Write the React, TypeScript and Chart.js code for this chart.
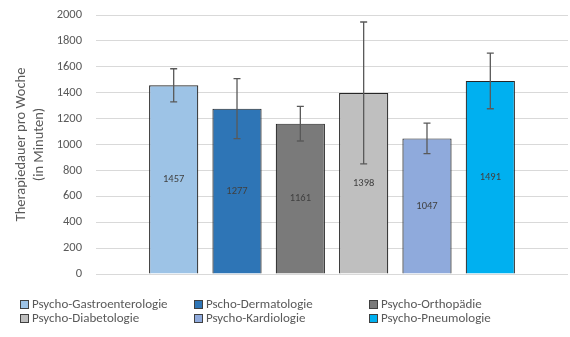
import React, { useEffect, useRef } from "react";
import { Chart, registerables } from "chart.js";

Chart.register(...registerables);

const seriesNames: string[] = [
  "Psycho-Gastroenterologie",
  "Pscho-Dermatologie",
  "Psycho-Orthopädie",
  "Psycho-Diabetologie",
  "Psycho-Kardiologie",
  "Psycho-Pneumologie",
];
const seriesValues: number[] = [1457, 1277, 1161, 1398, 1047, 1491];
const seriesErrors: number[] = [128, 231, 134, 548, 118, 215];
const seriesColors: string[] = ["#9DC3E6", "#2E75B6", "#7A7A7A", "#BFBFBF", "#8FAADC", "#00B0F0"];
const yTicks: number[] = [0, 200, 400, 600, 800, 1000, 1200, 1400, 1600, 1800, 2000];
const yTitle: string[] = ["Therapiedauer pro Woche", "(in Minuten)"];

const FONT = "Carlito, Calibri, Lato, 'Liberation Sans', sans-serif";

const overlayPlugin = {
  id: "overlay",
  afterDatasetsDraw(chart: any) {
    const ctx = chart.ctx;
    const yScale = chart.scales.y;
    ctx.save();
    chart.data.datasets.forEach((ds: any, i: number) => {
      const meta = chart.getDatasetMeta(i);
      const bar: any = meta.data[0];
      if (!bar) return;
      const v = ds.data[0];
      ctx.fillStyle = "#404040";
      ctx.font = `10.5px ${FONT}`;
      ctx.textAlign = "center";
      ctx.textBaseline = "middle";
      ctx.fillText(String(v), bar.x, (bar.y + bar.base) / 2);
      const e = seriesErrors[i];
      const yt = yScale.getPixelForValue(v + e);
      const yb = yScale.getPixelForValue(v - e);
      ctx.strokeStyle = "#595959";
      ctx.lineWidth = 1.3;
      ctx.beginPath();
      ctx.moveTo(bar.x, yt);
      ctx.lineTo(bar.x, yb);
      ctx.moveTo(bar.x - 3.5, yt);
      ctx.lineTo(bar.x + 3.5, yt);
      ctx.moveTo(bar.x - 3.5, yb);
      ctx.lineTo(bar.x + 3.5, yb);
      ctx.stroke();
    });
    ctx.restore();
  },
};

export default function App() {
  const ref = useRef<HTMLCanvasElement | null>(null);
  useEffect(() => {
    if (!ref.current) return;
    const chart = new Chart(ref.current, {
      type: "bar",
      data: {
        labels: [""],
        datasets: seriesNames.map((name, i) => ({
          label: name,
          data: [seriesValues[i]],
          backgroundColor: seriesColors[i],
          borderColor: "#262626",
          borderWidth: 1.2,
          categoryPercentage: 0.805,
          barPercentage: 0.777,
        })),
      },
      options: {
        animation: false,
        responsive: false,
        maintainAspectRatio: false,
        layout: { padding: { left: 0, top: 15, right: 2, bottom: 63 } },
        plugins: {
          legend: { display: false },
          tooltip: { enabled: false },
        },
        scales: {
          x: { display: false },
          y: {
            min: 0,
            max: 2000,
            afterFit: (s: any) => {
              s.width = 96;
              s.paddingTop = 0;
              s.paddingBottom = 0;
            },
            afterBuildTicks: (s: any) => {
              s.ticks = yTicks.map((v) => ({ value: v }));
            },
            border: { display: false },
            grid: { color: "#D9D9D9", lineWidth: 1, drawTicks: false },
            ticks: {
              color: "#595959",
              padding: 14,
              font: { size: 12.5, family: FONT },
              callback: (v: any) => String(v),
            },
            title: {
              display: true,
              text: yTitle,
              color: "#595959",
              font: { size: 14.5, family: FONT, lineHeight: 1.3 },
              padding: { top: 11.5, bottom: 0 },
            },
          },
        },
      },
      plugins: [overlayPlugin],
    });
    return () => chart.destroy();
  }, []);

  return (
    <div style={{ position: "fixed", left: 0, top: 0, width: 570, height: 337, background: "#fff" }}>
      <canvas ref={ref} width={570} height={337} style={{ display: "block" }} />
      <div
        style={{
          position: "absolute",
          left: 20,
          top: 297,
          display: "grid",
          gridTemplateColumns: "174px 175px auto",
          gridAutoRows: "14px",
          fontFamily: FONT,
          fontSize: 13,
          color: "#595959",
        }}
      >
        {seriesNames.map((name, i) => (
          <div key={name} style={{ display: "flex", alignItems: "center", whiteSpace: "nowrap", lineHeight: "14px" }}>
            <span
              style={{
                display: "inline-block",
                width: 7,
                height: 7,
                background: seriesColors[i],
                border: "1px solid #404040",
                marginRight: 3,
              }}
            />
            {name}
          </div>
        ))}
      </div>
    </div>
  );
}
